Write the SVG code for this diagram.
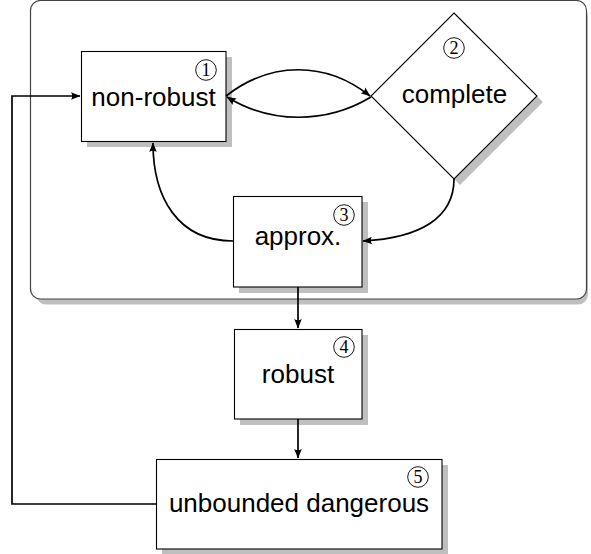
<svg xmlns="http://www.w3.org/2000/svg" width="591" height="554" viewBox="0 0 591 554">
<style>
.shadow{fill:#bfbfbf;stroke:none}
.box{fill:#fff;stroke:#000;stroke-width:1.1}
.lbl{font-family:"Liberation Sans",Arial,sans-serif;font-size:26px;fill:#000;text-anchor:middle}
.num{font-family:"Liberation Serif","Times New Roman",serif;font-size:18px;fill:#000;text-anchor:middle}
.circ{fill:none;stroke:#000;stroke-width:0.9}
.edge{fill:none;stroke:#000;stroke-width:1.7;marker-end:url(#arr)}
</style>
<defs>
<marker id="arr" markerUnits="userSpaceOnUse" markerWidth="12" markerHeight="10" viewBox="-10 -5 12 10" refX="0" refY="0" orient="auto">
<path d="M0.5,0 L-9,-3.8 Q-6.5,0 -9,3.8 Z" fill="#000"/>
</marker>
</defs>
<g id="frame">
<rect class="shadow" x="36" y="6.5" width="552" height="298" rx="10"/>
<rect x="30.5" y="0.5" width="556" height="298.5" rx="10" fill="#fff" stroke="#444" stroke-width="1.2"/>
</g>
<g id="n1">
<rect class="shadow" x="87" y="57" width="145" height="90"/>
<rect class="box" x="81.5" y="51.5" width="144.5" height="90"/>
<circle class="circ" cx="206" cy="70" r="10.3"/>
<text class="num" x="206" y="76.3">1</text>
<text class="lbl" x="153.5" y="106">non-robust</text>
</g>
<g id="n2">
<polygon class="shadow" points="460,19 543,102 460,185 377,102"/>
<polygon class="box" points="454,13 537,96 454,179 371,96"/>
<circle class="circ" cx="454" cy="48" r="10.3"/>
<text class="num" x="454" y="54.3">2</text>
<text class="lbl" x="454.5" y="103">complete</text>
</g>
<g id="n3">
<rect class="shadow" x="239" y="202" width="129" height="91"/>
<rect class="box" x="233.5" y="196.5" width="128.5" height="90.5"/>
<circle class="circ" cx="344" cy="215" r="10.3"/>
<text class="num" x="344" y="221.3">3</text>
<text class="lbl" x="298" y="245">approx.</text>
</g>
<g id="n4">
<rect class="shadow" x="240" y="335" width="128" height="90"/>
<rect class="box" x="234.5" y="329.5" width="127.5" height="89.5"/>
<circle class="circ" cx="344" cy="347" r="10.3"/>
<text class="num" x="344" y="353.3">4</text>
<text class="lbl" x="298" y="383">robust</text>
</g>
<g id="n5">
<rect class="shadow" x="162" y="465" width="286" height="90"/>
<rect class="box" x="156.5" y="459.5" width="285.5" height="89.5"/>
<circle class="circ" cx="418" cy="477" r="10.3"/>
<text class="num" x="418" y="483.3">5</text>
<text class="lbl" x="299" y="512">unbounded dangerous</text>
</g>
<g id="connectors">
<path class="edge" d="M226,96 C271,61 326,61 370,96"/>
<path class="edge" d="M371,97 C326,124 271,124 227,97"/>
<path class="edge" d="M233,241 C178,241 153,198 153,143"/>
<path class="edge" d="M454,179 C454,218 420,238 363,241"/>
<path class="edge" d="M298,287 L298,328"/>
<path class="edge" d="M298,419 L298,458"/>
<path class="edge" d="M156,504 L12,504 L12,96 L80,96"/>
</g>
</svg>
